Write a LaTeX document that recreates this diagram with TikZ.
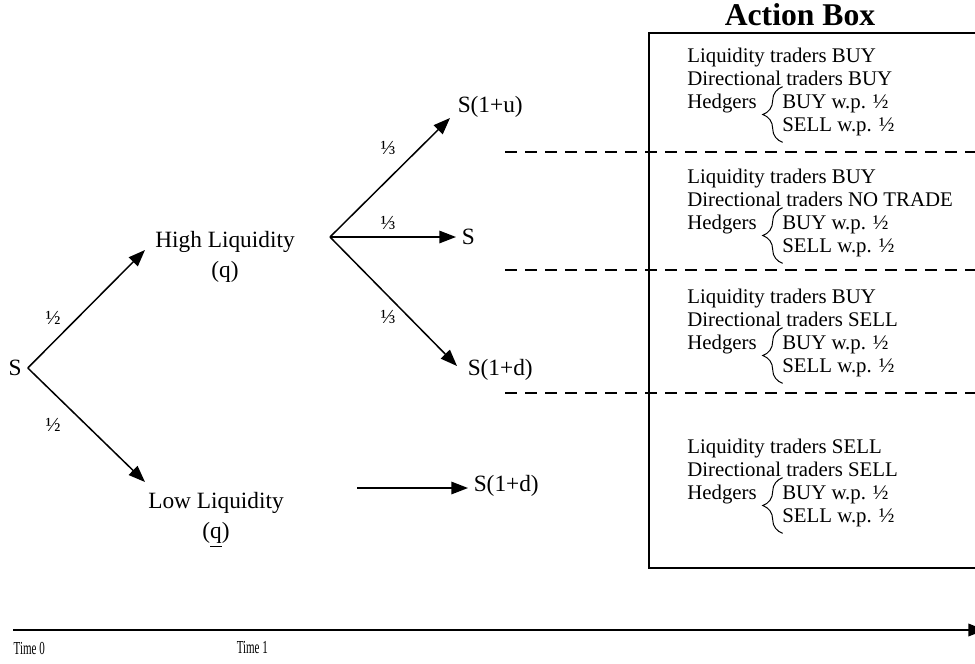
\documentclass[tikz,border=0pt]{standalone}
\usepackage{graphicx}
\usepackage{fontspec}
\setmainfont{Liberation Serif}
\usetikzlibrary{arrows.meta,decorations.pathreplacing}
\begin{document}
\begin{tikzpicture}[x=0.6pt, y=-0.6pt, line width=0.9pt, >={Triangle[length=10pt,width=7.5pt]},
	lbl/.style={font=\fontsize{14}{18}\selectfont, align=center},
	prob/.style={font=\fontsize{12}{14}\selectfont},
	boxtxt/.style={font=\fontsize{12.5}{14}\selectfont, anchor=west, text height=9pt, text depth=3pt},
	timelbl/.style={font=\fontsize{11}{13}\selectfont, anchor=west, inner sep=0},
	sep/.style={dash pattern=on 7pt off 5pt, line width=1.2pt},
	hbrace/.style={decorate, decoration={brace, amplitude=12pt}, line width=0.6pt} ]
	\useasboundingbox (0,0) rectangle (975,663);
	% tree
	\node[lbl] (s0) at (15,368) {S};
	\node[lbl] (hi) at (225,257) {High Liquidity\\(q)};
	\node[lbl] (lo) at (216,520) {Low Liquidity\\(\underline{q})};
	\node[lbl, anchor=west, inner sep=0] (su) at (457,107) {S(1+u)};
	\node[lbl, anchor=west, inner sep=0] (sm) at (461,237) {S};
	\node[lbl, anchor=west, inner sep=0] (sd) at (467,370) {S(1+d)};
	\node[lbl, anchor=west, inner sep=0] (sdlo) at (473,486) {S(1+d)};
	\coordinate (hiin) at (145,250);
	\coordinate (loin) at (145,482);
	\coordinate (hiout) at (330,237);
	\coordinate (loout) at (357,488);
	\draw[->] (s0.east) -- (hiin);
	\draw[->] (s0.east) -- (loin);
	\draw[->] (hiout) -- ([shift={(-7,11)}]su.west);
	\draw[->] (hiout) -- ([xshift=-3pt]sm.west);
	\draw[->] (hiout) -- ([shift={(-10,-4)}]sd.west);
	\draw[->] (loout) -- ([shift={(-5,2)}]sdlo.west);
	\node[prob] (phi) at (53,318) {½};
	\node[prob] (plo) at (53,425) {½};
	\foreach \y [count=\i] in {148,223,317}
		\node[prob] (pt\i) at (388,\y) {⅓};
	% action box
	\foreach \y in {152,270,393}
		\draw[sep] (505,\y) -- (985,\y);
	\draw[line width=1.2pt] (649,33) rectangle (985,568);
	\node[font=\bfseries\fontsize{19}{22}\selectfont] (title) at (800,15) {Action Box};
	\foreach \y/\lq/\dq [count=\i] in {57/BUY/BUY, 178/BUY/NO TRADE, 298/BUY/SELL, 448/SELL/SELL}{
		\node[boxtxt] (liq\i) at (681,\y) {Liquidity traders \lq};
		\node[boxtxt] (dir\i) at (681,\y+23) {Directional traders \dq};
		\node[boxtxt] (hedg\i) at (681,\y+46) {Hedgers};
		\node[boxtxt] (buy\i) at (776,\y+46) {BUY w.p. ½};
		\node[boxtxt] (sell\i) at (776,\y+69) {SELL w.p. ½};
		\draw[hbrace] ([xshift=4pt]sell\i.south west) -- ([xshift=4pt]buy\i.north west);
	}
	% time axis
	\coordinate (tstart) at (13,630);
	\coordinate (tend) at (985,630);
	\draw[->, line width=1.2pt] (tstart) -- (tend);
	\node[timelbl] (time0) at (13,648) {\scalebox{0.6}[1]{Time 0}};
	\node[timelbl] (time1) at (236,648) {\scalebox{0.6}[1]{Time 1}};
\end{tikzpicture}
\end{document}
